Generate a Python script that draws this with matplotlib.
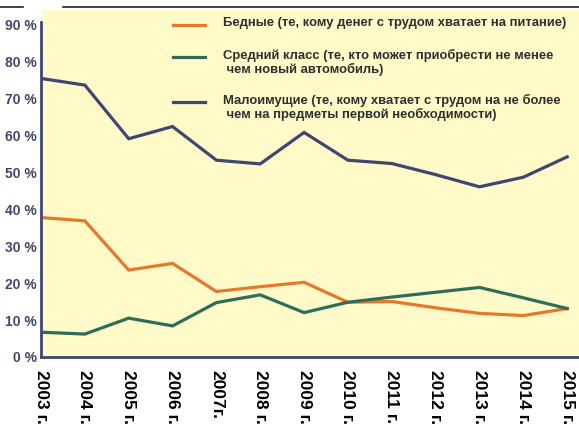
import matplotlib.pyplot as plt
from matplotlib.lines import Line2D

years = [2003, 2004, 2005, 2006, 2007, 2008, 2009, 2010, 2011, 2012, 2013, 2014, 2015]
year_labels = ["2003 г.", "2004 г.", "2005 г.", "2006 г.", "2007г.", "2008 г.", "2009 г.",
               "2010 г.", "2011 г.", "2012 г.", "2013 г.", "2014 г.", "2015 г."]

# доли населения, %
poor = [37.7, 36.8, 23.5, 25.3, 17.7, 19.0, 20.2, 14.8, 15.0, 13.3, 11.8, 11.2, 13.1]
middle = [6.7, 6.2, 10.5, 8.4, 14.7, 16.8, 12.0, 14.8, 16.2, 17.5, 18.8, 16.0, 13.1]
low_income = [75.3, 73.5, 59.0, 62.3, 53.2, 52.2, 60.7, 53.2, 52.3, 49.3, 46.0, 48.6, 54.1]

labels = ["Бедные (те, кому денег с трудом хватает на питание)",
          "Средний класс (те, кто может приобрести не менее\n чем новый автомобиль)",
          "Малоимущие (те, кому хватает с трудом на не более\n чем на предметы первой необходимости)"]

c_poor = "#e5782a"
c_mid = "#2f6d5b"
c_low = "#3f4670"

plt.rcParams['font.family'] = ['Liberation Sans', 'DejaVu Sans']

W, H = 579, 434
fig = plt.figure(figsize=(W / 100, H / 100), dpi=100)
ax = fig.add_axes([41 / W, 1 - 357 / H, 1 - 41 / W, (357 - 10) / H])
ax.set_facecolor("#fffac8")

ax.plot(years, low_income, color=c_low, lw=2.3, solid_joinstyle='miter')
ax.plot(years, poor, color=c_poor, lw=2.3, solid_joinstyle='miter')
ax.plot(years, middle, color=c_mid, lw=2.3, solid_joinstyle='miter')

ax.set_xlim(2003, 2015.27)
ax.set_ylim(0, 93.8)

ax.set_yticks(range(0, 91, 10))
ax.set_yticklabels([f"{v} %" for v in range(0, 91, 10)], fontsize=10,
                   fontweight='bold', color="#404768")
ax.set_xticks(years)
ax.set_xticklabels(year_labels, rotation=270, fontsize=12.5, fontweight='bold', color='black')
ax.tick_params(axis='y', length=0, pad=3)
ax.tick_params(axis='x', length=0, pad=9)

for s in ['top', 'right']:
    ax.spines[s].set_visible(False)
ax.spines['left'].set_color(c_low)
ax.spines['left'].set_linewidth(2)
ax.spines['left'].set_bounds(0, 90.6)
ax.spines['bottom'].set_color(c_low)
ax.spines['bottom'].set_linewidth(2)

# легенда вручную: линия на уровне первой строки
rows = [25, 56.5, 101.5]
for y, col, lab in zip(rows, [c_poor, c_mid, c_low], labels):
    fy = 1 - y / H
    fig.add_artist(Line2D([173 / W, 205 / W], [fy, fy], color=col, lw=2.3))
    fig.text(223 / W, fy + 8 / H, lab, fontsize=9.4, fontweight='bold',
             color="#2e2e2e", va='top', ha='left', linespacing=1.15)

# тёмная линия сверху (край скана)
fig.add_artist(Line2D([0, 23 / W], [1 - 7 / H, 1 - 7 / H], color='#222222', lw=1.2))
fig.add_artist(Line2D([63 / W, 1], [1 - 7 / H, 1 - 7 / H], color='#222222', lw=1.2))

fig.savefig("out.png", dpi=100)
